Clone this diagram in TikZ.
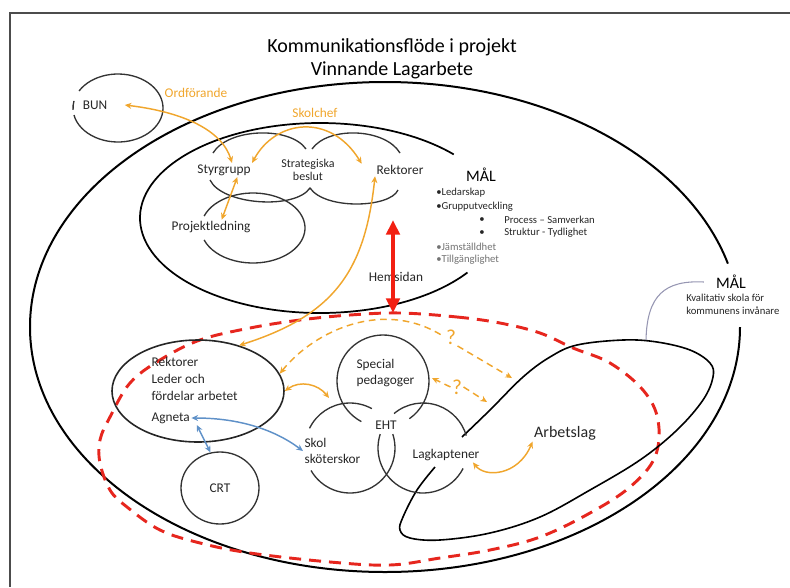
\documentclass[tikz,border=0pt]{standalone}
\usepackage{fontspec}
\setmainfont{Carlito}
\usepackage{xcolor}
\usetikzlibrary{arrows.meta,shapes.geometric}

\definecolor{flow}{RGB}{240,166,45}
\definecolor{web}{RGB}{242,32,18}
\definecolor{team}{RGB}{230,38,30}
\definecolor{care}{RGB}{95,145,200}
\definecolor{aimgray}{RGB}{150,150,178}

\begin{document}
\begin{tikzpicture}[x=0.75pt, y=-0.75pt,
    txt/.style={font=\fontsize{10}{12.5}\selectfont, inner sep=1pt, text=black!85},
    bullet/.style={font=\fontsize{8}{10}\selectfont, inner sep=0pt, anchor=west, text=black!85},
    ring/.style={draw=black!80, line width=1pt},
    flowline/.style={draw=flow, line width=1.1pt, {Stealth[length=5pt,width=4.5pt]}-{Stealth[length=5pt,width=4.5pt]}},
    maybe/.style={draw=flow, line width=1.1pt, dash pattern=on 5pt off 3.5pt, -{Stealth[length=5pt,width=4.5pt]}},
    nurse/.style={draw=care, line width=1.1pt, {Stealth[length=5pt,width=4.5pt]}-{Stealth[length=5pt,width=4.5pt]}}]

  \useasboundingbox (0,0) rectangle (790,587);
  \draw[black!70, line width=1pt] (790,13) -- (10,13) -- (10,587);

  \node[font=\fontsize{15}{17}\selectfont, align=center] (title) at (392,59)
    {Kommunikationsflöde i projekt\\Vinnande Lagarbete};

  % outer and inner fields
  \draw[line width=1.5pt] (385,327) ++(0:355 and 245)
    arc[start angle=0, end angle=345, x radius=355, y radius=245];
  \draw[line width=1.3pt] (320,218) ++(35:180 and 95)
    arc[start angle=35, end angle=318, x radius=180, y radius=95];

  \draw[team, line width=2.2pt, dash pattern=on 9pt off 6pt] plot[smooth cycle, tension=0.6] coordinates
    {(400,313) (457,317) (500,323) (540,333) (573,348) (610,363) (643,390) (658,420) (655,457)
     (630,487) (590,513) (540,537) (490,550) (440,558) (390,565) (330,562) (250,553) (200,543)
     (160,530) (127,507) (110,490) (100,463) (100,440) (110,417) (130,383) (160,360) (200,340)
     (250,328) (300,320) (350,315)};

  \draw[line width=1.2pt] plot[smooth, tension=0.6] coordinates
    {(462,437) (490,410) (523,377) (550,357) (577,345) (623,340) (657,342) (690,350) (710,363)
     (713,377) (703,400) (677,430) (640,460) (590,490) (540,517) (490,533) (440,540) (410,538)
     (400,530) (403,517) (417,490) (435,467)};
  \coordinate (teamtop) at (646,340);
  \coordinate (teamnw) at (512,378);
  \coordinate (teamw) at (487,402);

  % BUN
  \draw[ring] (118,108) ++(210:45 and 34) arc[start angle=210, end angle=528, x radius=45, y radius=34];
  \draw[ring] (118,108) ++(177:45 and 34) arc[start angle=177, end angle=192, x radius=45, y radius=34];
  \node[txt] (bun) at (95,105) {BUN};

  % steering cloud
  \draw[ring] (213,153) .. controls (228,128) and (290,126) .. (306,149);
  \draw[ring] (312,149) .. controls (328,126) and (385,128) .. (400,153);
  \draw[ring] (210,180) .. controls (222,205) and (295,210) .. (310,188)
              .. controls (325,210) and (390,208) .. (398,190);
  \draw[ring] (253,228) ++(200:52 and 35) arc[start angle=200, end angle=520, x radius=52, y radius=35];
  \node[txt] (styr) at (224,170) {Styrgrupp};
  \node[txt, font=\fontsize{9}{10}\selectfont, align=center] (strat) at (308,170) {Strategiska\\beslut};
  \node[txt] (rek) at (400,170) {Rektorer};
  \node[txt] (proj) at (211,227) {Projektledning};

  \node[font=\fontsize{12}{14}\selectfont, inner sep=1pt] (goal) at (481,175) {MÅL};
  \foreach \t/\y/\c in {Ledarskap/193/black!85, Grupputveckling/207/black!85,
                        Jämställdhet/247/black!55, Tillgänglighet/260/black!55}
    \node[bullet, text=\c] (goal-\y) at (436,\y) {•\t};
  \foreach \t/\y in {Process – Samverkan/220, Struktur - Tydlighet/233}{
    \node[bullet] (dot-\y) at (479,\y) {•};
    \node[bullet] (goal-\y) at (504,\y) {\t};}

  % lower field
  \node[draw=black!85, line width=1.2pt, ellipse, minimum width=129pt, minimum height=76.5pt,
        inner sep=0pt] (lead) at (198,391) {};
  \node[txt, align=left, anchor=west] (leadtxt) at (150,379) {Rektorer\\Leder och\\fördelar arbetet};
  \node[txt, anchor=west] (agn) at (150,418) {Agneta};
  \node[txt, ring, ellipse, inner sep=0pt, minimum width=58.5pt, minimum height=54pt] (crt) at (220,488) {CRT};

  \draw[ring] (383,381) ++(118:46) arc[start angle=118, end angle=415, radius=46];
  \draw[ring] (350,448) ++(206:45) arc[start angle=206, end angle=299, radius=45];
  \draw[ring] (350,448) ++(342:45) arc[start angle=342, end angle=510, radius=45];
  \draw[ring] (423,448) ++(230:45) arc[start angle=230, end angle=344, radius=45];
  \draw[ring] (423,448) ++(27:45) arc[start angle=27, end angle=198, radius=45];
  \coordinate (specsw) at (329,398);
  \coordinate (spece) at (432,378);
  \node[txt, align=left, anchor=west] (spec) at (355,373) {Special\\pedagoger};
  \node[txt] (eht) at (386,425) {EHT};
  \node[txt, align=left, anchor=west] (skol) at (303,451) {Skol\\sköterskor};
  \node[txt] (lag) at (446,455) {Lagkaptener};
  \node[txt, font=\fontsize{12}{14}\selectfont] (work) at (565,433) {Arbetslag};

  \node[font=\fontsize{12}{14}\selectfont, inner sep=1pt] (aim) at (731,282) {MÅL};
  \node[bullet, font=\fontsize{8}{9.75}\selectfont, align=left] (aimtxt) at (686,304)
    {Kvalitativ skola för\\kommunens invånare};
  \draw[aimgray, line width=0.8pt] ([xshift=-8pt]aim.west) .. controls (665,280) and (647,295) .. (teamtop);

  % arrows
  \node[txt, text=flow] (chair) at (196,93) {Ordförande};
  \node[txt, text=flow] (head) at (315,113) {Skolchef};
  \draw[flowline] ([xshift=12pt]bun.east) .. controls (183,112) and (222,130) .. ([xshift=6pt]styr.north);
  \draw[flowline] (styr.north east) .. controls (275,120) and (330,112) .. ([xshift=-10pt]rek.north west);
  \draw[flowline] ([xshift=10pt]styr.south) -- ([xshift=8pt]proj.north);
  \draw[flowline] (rek.south west) .. controls (365,270) and (335,315) .. (lead.48);
  \draw[flowline] (lead.east) .. controls (300,380) and (318,384) .. (specsw);
  \draw[flowline] ([xshift=-6pt]lag.south east) .. controls (485,478) and (518,476) .. (work.south west);

  \node[font=\fontsize{16}{16}\selectfont, text=flow, inner sep=1pt] (q1) at (451,337) {?};
  \node[font=\fontsize{16}{16}\selectfont, text=flow, inner sep=1pt] (q2) at (457,387) {?};
  \draw[maybe, {Stealth[length=5pt,width=4.5pt]}-] (lead.12) .. controls (315,330) and (385,298) .. (q1.west);
  \draw[maybe] (q1.south east) -- (teamnw);
  \draw[maybe] (q2.west) -- (spece);
  \draw[maybe] (q2.east) -- (teamw);

  \draw[nurse] (agn.east) .. controls (240,418) and (275,430) .. (skol.west);
  \draw[nurse] ([xshift=4pt]agn.south east) -- (crt.105);

  \node[txt] (home) at (396,277) {Hemsidan};
  \coordinate (webtop) at (393,220);
  \coordinate (webbot) at (393,313);
  \draw[web, line width=3pt, {Triangle[length=11pt,width=10pt]}-{Triangle[length=11pt,width=10pt]}] (webtop) -- (webbot);
\end{tikzpicture}
\end{document}
